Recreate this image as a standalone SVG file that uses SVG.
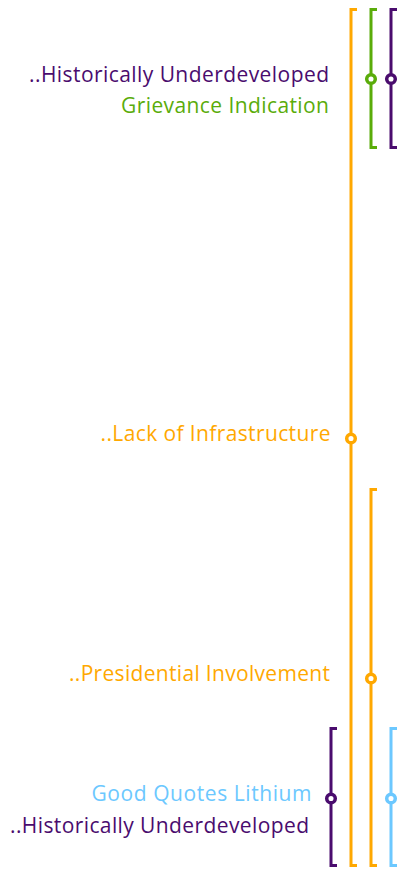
<svg xmlns="http://www.w3.org/2000/svg" width="398" height="870" viewBox="0 0 398 870">
  <style>
    .lbl { font-family: "Open Sans", "Noto Sans", "Liberation Sans", sans-serif; font-size: 21px; text-anchor: end; }
    .br { fill: none; stroke-width: 3; stroke-linecap: butt; stroke-linejoin: miter; }
    .dot { fill: #ffffff; stroke-width: 3.5; }
    .orange { stroke: #ffa800; }
    .green { stroke: #5aac0a; }
    .purple { stroke: #4a0c6e; }
    .blue { stroke: #6cc8ff; }
  </style>
  <rect width="398" height="870" fill="#ffffff"/>

  <!-- interval brackets -->
  <g id="connectors">
    <path class="br orange" d="M357 9.5 H351 V865.5 H357"/>
    <path class="br green" d="M377 9.5 H371 V147.5 H377"/>
    <path class="br purple" d="M397 9.5 H391 V147.5 H397"/>
    <path class="br orange" d="M377 489.5 H371 V865.5 H377"/>
    <path class="br purple" d="M337 728.5 H331 V865.5 H337"/>
    <path class="br blue" d="M397 728.5 H391 V865.5 H397"/>
  </g>

  <g id="node-historically-top">
    <circle class="dot purple" cx="391" cy="79" r="4.3"/>
    <text class="lbl" x="329" y="82" fill="#4a0c6e" textLength="300" lengthAdjust="spacing">..Historically Underdeveloped</text>
  </g>
  <g id="node-grievance">
    <circle class="dot green" cx="371" cy="79" r="4.3"/>
    <text class="lbl" x="329" y="113" fill="#5aac0a" textLength="208" lengthAdjust="spacing">Grievance Indication</text>
  </g>
  <g id="node-infrastructure">
    <circle class="dot orange" cx="351" cy="438.5" r="4.3"/>
    <text class="lbl" x="330.5" y="441" fill="#ffa800" textLength="230" lengthAdjust="spacing">..Lack of Infrastructure</text>
  </g>
  <g id="node-presidential">
    <circle class="dot orange" cx="371" cy="678.5" r="4.3"/>
    <text class="lbl" x="330" y="681" fill="#ffa800" textLength="261" lengthAdjust="spacing">..Presidential Involvement</text>
  </g>
  <g id="node-lithium">
    <circle class="dot blue" cx="391" cy="798.5" r="4.3"/>
    <text class="lbl" x="311.5" y="801" fill="#6cc8ff" textLength="220" lengthAdjust="spacing">Good Quotes Lithium</text>
  </g>
  <g id="node-historically-bottom">
    <circle class="dot purple" cx="331" cy="798.5" r="4.3"/>
    <text class="lbl" x="309" y="833" fill="#4a0c6e" textLength="299" lengthAdjust="spacing">..Historically Underdeveloped</text>
  </g>
</svg>
